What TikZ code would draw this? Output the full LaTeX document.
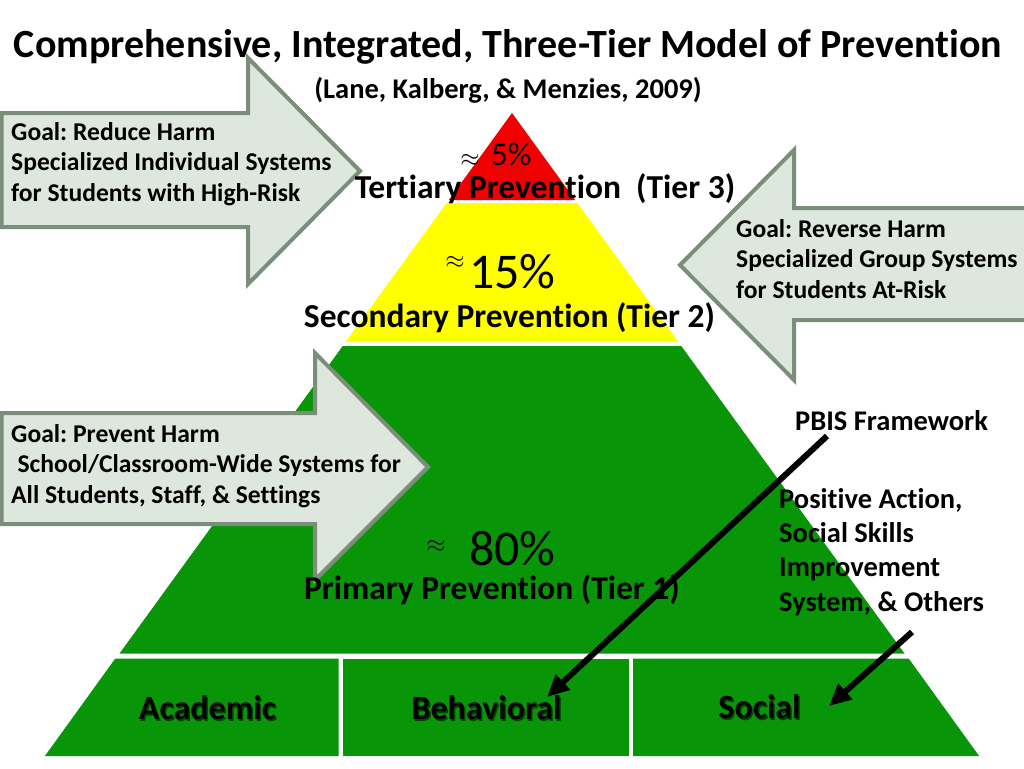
\documentclass[tikz,border=0pt]{standalone}
\usepackage{fontspec}
\setmainfont[Ligatures=NoCommon]{Carlito}
\usetikzlibrary{arrows.meta}
\definecolor{pgreen}{RGB}{8,150,8}
\definecolor{pred}{RGB}{240,0,0}
\definecolor{pyellow}{RGB}{255,255,0}
\definecolor{afill}{RGB}{222,231,222}
\definecolor{aline}{RGB}{122,142,122}
\tikzset{
  blockarrow/.style={fill=afill, draw=aline, line width=4pt, line join=miter},
  goaltext/.style={anchor=north west, inner sep=0pt, align=left, font=\bfseries\fontsize{25.6}{30.5}\selectfont},
  sidetext/.style={anchor=north west, inner sep=0pt, align=left, font=\bfseries\fontsize{28.5}{34.3}\selectfont},
  tiertext/.style={anchor=base, inner sep=0pt, font=\bfseries\fontsize{33.5}{36}\selectfont},
  bigpct/.style={anchor=base west, inner sep=0pt, font=\fontsize{50}{52}\selectfont},
  approxsign/.style={inner sep=0pt, font=\fontsize{26}{28}\selectfont},
  rowlabel/.style={anchor=base, inner sep=0pt, font=\bfseries\fontsize{34}{36}\selectfont},
  rowshadow/.style={rowlabel, text=black!55!pgreen},
  ptr/.style={line width=6pt, -{Triangle[length=22pt,width=20pt]}}
}
\begin{document}
\frenchspacing
\begin{tikzpicture}[x=1pt,y=-1pt]
\useasboundingbox (0,0) rectangle (1024,768);
\fill[white] (0,0) rectangle (1024,768);
% pyramid
\fill[pred] (512,113) -- (575.2,200) -- (448.8,200) -- cycle;
\fill[pyellow] (446.6,203) -- (577.4,203) -- (678.4,342) -- (345.6,342) -- cycle;
\fill[pgreen] (342.7,346) -- (681.3,346) -- (904.5,653.5) -- (119.5,653.5) -- cycle;
\fill[pgreen] (115.3,658.5) -- (338.5,658.5) -- (338.5,756) -- (44.9,756) -- cycle;
\fill[pgreen] (342.5,658.5) -- (629,658.5) -- (629,756) -- (342.5,756) -- cycle;
\fill[pgreen] (633,658.5) -- (908.7,658.5) -- (979.1,756) -- (633,756) -- cycle;
% block arrows
\draw[blockarrow] (1.5,113) -- (248,113) -- (248,58) -- (360,171) -- (248,284) -- (248,227) -- (1.5,227) -- cycle;
\draw[blockarrow] (1030,208) -- (794,208) -- (794,150) -- (680,265) -- (794,380) -- (794,320) -- (1030,320) -- cycle;
\draw[blockarrow] (1.5,413) -- (315,413) -- (315,353) -- (428,467) -- (315,580) -- (315,524) -- (1.5,524) -- cycle;
% titles
\node[anchor=base, inner sep=0pt, font=\bfseries\fontsize{40}{42}\selectfont] (title) at (508,58) {Comprehensive, Integrated, Three-Tier Model of Prevention};
\node[anchor=base, inner sep=0pt, font=\bfseries\fontsize{28.5}{30}\selectfont] (sub) at (508,98) {(Lane, Kalberg, \& Menzies, 2009)};
% goal texts
\node[goaltext] (g1) at (11,122) {Goal: Reduce Harm\\Specialized Individual Systems\\for Students with High-Risk};
\node[goaltext] (g2) at (736,219) {Goal: Reverse Harm\\Specialized Group Systems\\for Students At-Risk};
\node[goaltext] (g3) at (11,424) {Goal: Prevent Harm\\\hspace*{0.25em}School/Classroom-Wide Systems for\\All Students, Staff, \& Settings};
% percentages
\node[approxsign] (ap5) at (470,160) {$\approx$};
\node[anchor=base west, inner sep=0pt, font=\fontsize{33}{35}\selectfont] (p5) at (491,165) {5\%};
\node[approxsign] (ap15) at (455,262) {$\approx$};
\node[bigpct] (p15) at (469,288) {15\%};
\node[approxsign] (ap80) at (436,546) {$\approx$};
\node[bigpct] (p80) at (469,565) {80\%};
% tier labels
\node[tiertext] (t3) at (545,198) {Tertiary Prevention~~(Tier 3)};
\node[tiertext] (t2) at (509.5,327) {Secondary Prevention (Tier 2)};
\node[tiertext] (t1) at (492,599) {Primary Prevention (Tier 1)};
% bottom row labels
\node[rowshadow] at (209,721) {Academic};
\node[rowlabel] (acad) at (207.5,719) {Academic};
\node[rowshadow] at (488,721) {Behavioral};
\node[rowlabel] (behav) at (486.5,719) {Behavioral};
\node[rowshadow] at (761,720) {Social};
\node[rowlabel] (soc) at (759.5,718) {Social};
% side texts
\node[anchor=base west, inner sep=0pt, font=\bfseries\fontsize{28.5}{30}\selectfont] (pbis) at (795,430) {PBIS Framework};
\node[sidetext] (pa) at (779,488) {Positive Action,\\Social Skills\\Improvement\\System, \& Others};
% pointers
\coordinate (pbisA) at (827,436);
\coordinate (pbisB) at (547,697);
\coordinate (paA) at (912,632);
\coordinate (paB) at (829,706);
\draw[ptr] (pbisA) -- (pbisB);
\draw[ptr] (paA) -- (paB);
\end{tikzpicture}
\end{document}
